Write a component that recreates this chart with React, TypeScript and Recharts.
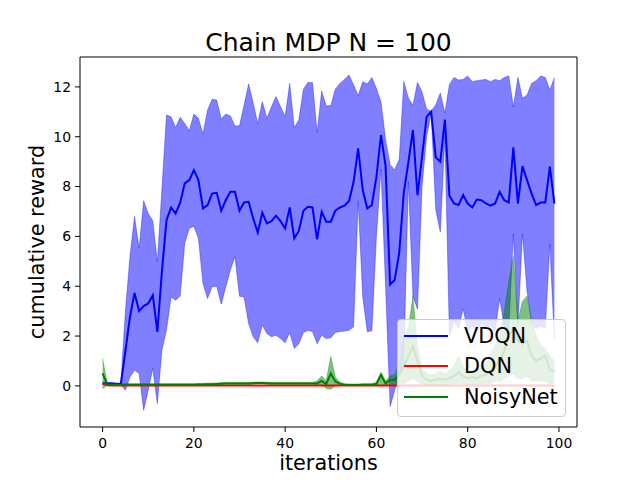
import React from 'react';
import { ComposedChart, Line, Area, XAxis, YAxis, Legend, Label, ReferenceLine } from 'recharts';

const FONT = 'DejaVu Sans';

const VDQN_MEAN = [
  0.1, 0.1, 0.1, 0.08, 0.08, 1.4, 2.77, 3.73, 3.01, 3.2,
  3.31, 3.64, 2.17, 4.6, 6.65, 7.16, 6.92, 7.35, 8.13, 8.26,
  8.66, 8.26, 7.12, 7.26, 7.72, 7.75, 7.03, 7.46, 7.79, 7.79,
  7.03, 7.36, 7.39, 6.72, 6.16, 6.95, 6.52, 6.61, 6.83, 6.61,
  6.32, 7.16, 5.92, 6.22, 7.03, 7.19, 7.16, 5.88, 6.99, 6.59,
  6.59, 7.03, 7.16, 7.23, 7.42, 8.19, 9.53, 7.86, 7.12, 7.26,
  8.39, 10.07, 8.84, 4.07, 4.25, 5.35, 7.76, 8.97, 10.27, 7.65,
  9.2, 10.8, 11.01, 9.17, 9.0, 10.69, 7.63, 7.32, 7.26, 7.66,
  7.32, 7.16, 7.48, 7.45, 7.32, 7.23, 7.32, 7.79, 7.45, 7.36,
  9.57, 7.32, 8.82, 8.26, 7.72, 7.26, 7.36, 7.36, 8.8, 7.32,
];
const VDQN_HI = [
  0.15, 0.15, 0.13, 0.12, 0.12, 3.0, 5.2, 6.8, 5.52, 7.43,
  6.92, 6.63, 4.98, 7.9, 10.87, 10.8, 10.37, 10.78, 10.53, 10.24,
  10.91, 10.74, 10.11, 11.07, 11.5, 11.47, 10.71, 10.91, 10.83, 10.43,
  10.44, 11.27, 12.12, 11.34, 10.53, 11.41, 10.74, 11.2, 11.61, 11.2,
  10.8, 12.14, 10.37, 10.67, 11.91, 12.18, 12.17, 10.16, 11.83, 11.23,
  11.25, 11.91, 12.14, 12.3, 12.48, 12.08, 11.65, 12.21, 12.12, 12.38,
  11.94, 11.4, 9.9, 8.88, 8.67, 9.1, 12.22, 11.55, 11.26, 12.18,
  11.8, 11.1, 11.02, 11.28, 11.76, 10.95, 12.1, 12.38, 12.28, 12.3,
  12.44, 12.21, 12.25, 12.28, 12.3, 12.21, 12.3, 12.25, 12.38, 12.44,
  11.2, 12.38, 11.54, 11.67, 12.14, 12.25, 12.44, 12.38, 11.87, 12.38,
];
const VDQN_LO = [
  0.05, 0.05, 0.05, 0.04, 0.04, -0.17, 0.36, 0.63, 0.5, -0.98,
  -0.17, 0.7, -0.71, 1.43, 2.24, 3.57, 3.44, 3.6, 5.72, 6.32,
  6.41, 5.92, 4.11, 3.51, 3.98, 4.0, 3.28, 3.98, 4.65, 5.18,
  3.6, 3.57, 2.5, 1.97, 1.73, 2.44, 2.1, 1.97, 2.03, 1.9,
  1.73, 2.14, 1.5, 1.69, 2.14, 2.22, 2.18, 1.69, 2.03, 1.9,
  1.93, 2.14, 2.18, 2.2, 2.23, 2.37, 7.43, 3.57, 2.17, 2.21,
  6.0, 8.7, 4.0, -0.83, -0.17, 0.5, 1.0, 8.2, 3.6, 3.08,
  8.0, 10.0, 10.95, 7.06, 6.18, 10.0, 2.0, 2.6, 2.3, 3.1,
  2.2, 2.4, 2.2, 2.5, 2.3, 2.4, 2.2, 3.5, 2.4, 2.2,
  6.1, 2.4, 6.1, 3.8, 2.5, 2.3, 2.4, 2.3, 5.7, 1.8,
];

const DQN_MEAN = [
  0.1, 0.03, 0.02, 0.02, 0.02, 0.02, 0.02, 0.02, 0.02, 0.02,
  0.02, 0.02, 0.02, 0.02, 0.02, 0.02, 0.02, 0.02, 0.02, 0.02,
  0.02, 0.02, 0.02, 0.02, 0.02, 0.02, 0.02, 0.02, 0.02, 0.02,
  0.02, 0.02, 0.02, 0.02, 0.02, 0.02, 0.02, 0.02, 0.02, 0.02,
  0.02, 0.02, 0.02, 0.02, 0.02, 0.02, 0.02, 0.02, 0.02, 0.02,
  0.02, 0.02, 0.02, 0.02, 0.02, 0.02, 0.02, 0.02, 0.02, 0.02,
  0.02, 0.02, 0.02, 0.02, 0.02, 0.02, 0.02, 0.02, 0.02, 0.02,
  0.02, 0.02, 0.02, 0.02, 0.02, 0.02, 0.02, 0.02, 0.02, 0.02,
  0.02, 0.02, 0.02, 0.02, 0.02, 0.02, 0.02, 0.02, 0.02, 0.02,
  0.02, 0.02, 0.02, 0.02, 0.02, 0.02, 0.02, 0.02, 0.02, 0.02,
];

const NOISY_MEAN = [
  0.5, 0.07, 0.05, 0.05, 0.05, 0.05, 0.05, 0.05, 0.05, 0.05,
  0.05, 0.05, 0.05, 0.05, 0.05, 0.05, 0.05, 0.05, 0.05, 0.05,
  0.05, 0.06, 0.06, 0.07, 0.07, 0.08, 0.09, 0.1, 0.1, 0.1,
  0.1, 0.1, 0.1, 0.11, 0.12, 0.12, 0.11, 0.1, 0.1, 0.1,
  0.1, 0.1, 0.1, 0.1, 0.1, 0.1, 0.1, 0.1, 0.2, 0.07,
  0.5, 0.18, 0.08, 0.05, 0.04, 0.04, 0.04, 0.05, 0.05, 0.05,
  0.08, 0.44, 0.1, 0.24, 0.25, 0.45, 0.8, 1.2, 1.6, 1.0,
  0.4, 0.25, 0.2, 0.25, 0.3, 0.25, 0.3, 0.4, 0.55, 0.4,
  0.3, 0.35, 0.3, 0.4, 0.45, 0.6, 0.8, 1.0, 1.4, 2.0,
  2.3, 1.8, 1.7, 1.8, 1.2, 1.0, 1.1, 1.2, 0.65, 0.6,
];
const NOISY_HI = [
  1.1, 0.12, 0.09, 0.09, 0.09, 0.09, 0.09, 0.09, 0.09, 0.09,
  0.09, 0.09, 0.09, 0.09, 0.09, 0.09, 0.09, 0.09, 0.09, 0.09,
  0.09, 0.1, 0.1, 0.11, 0.11, 0.12, 0.13, 0.14, 0.14, 0.14,
  0.14, 0.14, 0.14, 0.15, 0.16, 0.16, 0.15, 0.14, 0.14, 0.14,
  0.14, 0.14, 0.14, 0.14, 0.14, 0.14, 0.14, 0.2, 0.4, 0.2,
  1.18, 0.35, 0.15, 0.09, 0.08, 0.08, 0.08, 0.09, 0.09, 0.09,
  0.15, 0.55, 0.2, 0.4, 0.45, 0.9, 2.0, 2.3, 3.6, 1.6,
  0.7, 0.5, 0.45, 0.5, 0.6, 0.5, 0.6, 0.8, 1.2, 0.8,
  0.6, 0.65, 0.6, 0.8, 0.9, 1.3, 1.6, 2.0, 3.0, 4.2,
  5.2, 2.6, 3.4, 3.6, 2.6, 2.0, 1.6, 1.5, 1.2, 1.0,
];
const NOISY_LO = [
  -0.1, 0.02, 0.02, 0.02, 0.02, 0.02, 0.02, 0.02, 0.02, 0.02,
  0.02, 0.02, 0.02, 0.02, 0.02, 0.02, 0.02, 0.02, 0.02, 0.02,
  0.02, 0.03, 0.03, 0.04, 0.04, 0.05, 0.06, 0.07, 0.07, 0.07,
  0.07, 0.07, 0.07, 0.08, 0.09, 0.09, 0.08, 0.07, 0.07, 0.07,
  0.07, 0.07, 0.07, 0.07, 0.07, 0.07, 0.07, 0.02, 0.05, -0.1,
  -0.13, 0.0, 0.02, 0.02, 0.01, 0.01, 0.01, 0.02, 0.02, 0.02,
  0.02, 0.0, 0.02, 0.05, 0.05, 0.1, 0.1, 0.2, 0.3, 0.2,
  0.05, 0.05, 0.05, 0.05, 0.05, 0.05, 0.05, 0.1, 0.1, 0.1,
  0.05, 0.05, 0.05, 0.1, 0.1, 0.1, 0.2, 0.2, 0.3, 0.4,
  0.5, 0.3, 0.3, 0.4, 0.2, 0.2, 0.2, 0.2, 0.1, 0.1,
];

const X_TICKS = [0, 20, 40, 60, 80, 100];
const Y_TICKS = [0, 2, 4, 6, 8, 10, 12];
const X_DOMAIN = [-4.95, 103.95];
const Y_DOMAIN = [-1.65, 13.2];

const SERIES = [
  { name: 'VDQN', color: '#0000ff' },
  { name: 'DQN', color: '#ff0000' },
  { name: 'NoisyNet', color: '#008000' },
];

const data = VDQN_MEAN.map((v, i) => ({
  iter: i,
  vdqn: v,
  vdqnBand: [VDQN_LO[i], VDQN_HI[i]],
  dqn: DQN_MEAN[i],
  noisy: NOISY_MEAN[i],
  noisyBand: [NOISY_LO[i], NOISY_HI[i]],
}));

const renderLegend = () => (
  <div
    style={{
      boxSizing: 'border-box',
      width: 169,
      height: 98,
      background: 'rgba(255,255,255,0.8)',
      border: '1px solid #cccccc',
      borderRadius: 4,
      position: 'relative',
      fontFamily: FONT,
      fontSize: 20.8,
      color: '#000',
    }}
  >
    {SERIES.map((s, k) => (
      <div
        key={s.name}
        style={{
          position: 'absolute',
          left: 0,
          top: 16.5 + 30.5 * k - 15 - 1,
          height: 30,
          display: 'flex',
          alignItems: 'center',
        }}
      >
        <div style={{ marginLeft: 6, width: 44, height: 2, background: s.color }} />
        <span style={{ marginLeft: 16, lineHeight: '30px', whiteSpace: 'nowrap' }}>{s.name}</span>
      </div>
    ))}
  </div>
);

const tickStyle = { fontSize: 13.9, fill: '#000', fontFamily: FONT };

export default function App() {
  return (
    <div style={{ position: 'absolute', left: 0, top: 0, width: 640, height: 480, background: '#fff' }}>
      <svg style={{ position: 'absolute', left: 0, top: 0 }} width={640} height={57}>
        <text x={328.5} y={51} textAnchor="middle" fontFamily={FONT} fontSize={25} fill="#000">
          Chain MDP N = 100
        </text>
      </svg>
      <ComposedChart
        width={640}
        height={480}
        data={data}
        margin={{ top: 57, right: 63, bottom: 0, left: 0 }}
      >
        <XAxis
          dataKey="iter"
          type="number"
          domain={X_DOMAIN}
          ticks={X_TICKS}
          allowDataOverflow
          height={53}
          tickSize={5}
          tickMargin={6}
          tick={tickStyle}
          stroke="#000"
          tickLine={{ stroke: '#000' }}
          axisLine={{ stroke: '#000' }}
        >
          <Label
            value="iterations"
            position="insideBottom"
            offset={10}
            style={{ fontSize: 20.8, fontFamily: FONT, fill: '#000' }}
          />
        </XAxis>
        <YAxis
          type="number"
          domain={Y_DOMAIN}
          ticks={Y_TICKS}
          allowDataOverflow
          width={80}
          tickSize={5}
          tickMargin={4}
          tick={tickStyle}
          stroke="#000"
          tickLine={{ stroke: '#000' }}
          axisLine={{ stroke: '#000' }}
        >
          <Label
            content={(props: any) => {
              const vb = props.viewBox || { x: 0, y: 57, width: 80, height: 370 };
              const cy = vb.y + vb.height / 2;
              const cx = 43.5;
              return (
                <text
                  x={cx}
                  y={cy}
                  transform={`rotate(-90, ${cx}, ${cy})`}
                  textAnchor="middle"
                  fontFamily={FONT}
                  fontSize={20.8}
                  fill="#000"
                >
                  cumulative reward
                </text>
              );
            }}
          />
        </YAxis>
        <Area
          type="linear"
          dataKey="vdqnBand"
          fill="#0000ff"
          fillOpacity={0.5}
          stroke="#0000ff"
          strokeOpacity={0.35}
          strokeWidth={1}
          dot={false}
          activeDot={false}
          legendType="none"
          isAnimationActive={false}
        />
        <Line
          type="linear"
          dataKey="vdqn"
          name="VDQN"
          stroke="#0000ff"
          strokeWidth={2}
          dot={false}
          activeDot={false}
          isAnimationActive={false}
        />
        <Line
          type="linear"
          dataKey="dqn"
          name="DQN"
          stroke="#ff0000"
          strokeWidth={2}
          dot={false}
          activeDot={false}
          isAnimationActive={false}
        />
        <Area
          type="linear"
          dataKey="noisyBand"
          fill="#008000"
          fillOpacity={0.5}
          stroke="#008000"
          strokeOpacity={0.35}
          strokeWidth={1}
          dot={false}
          activeDot={false}
          legendType="none"
          isAnimationActive={false}
        />
        <Line
          type="linear"
          dataKey="noisy"
          name="NoisyNet"
          stroke="#008000"
          strokeWidth={2}
          dot={false}
          activeDot={false}
          isAnimationActive={false}
        />
        <ReferenceLine y={Y_DOMAIN[1]} stroke="#000" strokeWidth={1} ifOverflow="visible" />
        <ReferenceLine x={X_DOMAIN[1]} stroke="#000" strokeWidth={1} ifOverflow="visible" />
        <Legend
          layout="horizontal"
          verticalAlign="middle"
          align="center"
          content={renderLegend}
          wrapperStyle={{ left: 397, top: 319, width: 169, height: 98, right: 'auto', bottom: 'auto' }}
        />
      </ComposedChart>
    </div>
  );
}
